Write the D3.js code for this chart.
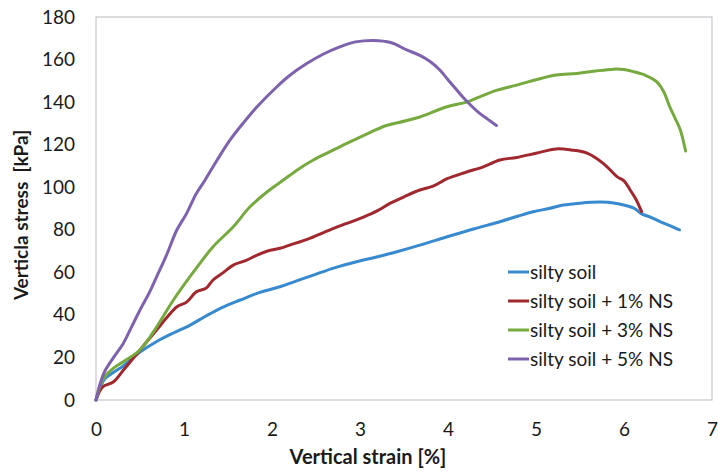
<!DOCTYPE html>
<html>
<head>
<meta charset="utf-8">
<script src="https://cdn.jsdelivr.net/npm/d3@7"></script>
<style>
  body { margin: 0; background: #fff; }
  svg { display: block; }
</style>
</head>
<body>
<div class="chart"></div>
<script>
const xTicks = [0, 1, 2, 3, 4, 5, 6, 7];
const yTicks = [0, 20, 40, 60, 80, 100, 120, 140, 160, 180];

const seriesNames = ['silty soil', 'silty soil + 1% NS', 'silty soil + 3% NS', 'silty soil + 5% NS'];
const seriesColors = ['#3789d0', '#a0282e', '#76aa3f', '#7d62ad'];

const strain0 = [0, 0.05, 0.1, 0.2, 0.31, 0.5, 0.69, 0.88, 1.07, 1.25, 1.45, 1.64, 1.83, 2.09, 2.28, 2.47, 2.7, 2.96, 3.2, 3.42, 3.7, 3.99, 4.3, 4.59, 4.8, 4.97, 5.15, 5.31, 5.5, 5.73, 5.9, 6.03, 6.12, 6.2, 6.3, 6.41, 6.52, 6.63];
const stress0 = [0, 6, 10, 13, 16, 22.5, 27.5, 31.5, 35.2, 39.5, 43.8, 47, 50.1, 53.2, 56, 58.7, 62, 65, 67.3, 69.7, 73, 76.7, 80.5, 83.8, 86.5, 88.5, 90, 91.6, 92.5, 93, 92.5, 91.3, 90, 87.5, 86, 83.8, 82, 80];

const strain1 = [0, 0.04, 0.08, 0.2, 0.31, 0.5, 0.69, 0.8, 0.92, 1.03, 1.14, 1.25, 1.33, 1.45, 1.56, 1.7, 1.83, 1.95, 2.09, 2.2, 2.4, 2.66, 2.85, 3.04, 3.2, 3.34, 3.5, 3.68, 3.83, 3.99, 4.2, 4.4, 4.59, 4.78, 5.0, 5.23, 5.4, 5.58, 5.77, 5.92, 6.0, 6.07, 6.14, 6.2];
const stress1 = [0, 4, 6.3, 8.6, 14, 23.5, 33, 38.5, 43.8, 46, 50.9, 52.5, 56.4, 60, 63.4, 65.5, 68.1, 70, 71.3, 72.8, 75.5, 80, 83, 86, 89, 92.4, 95.5, 98.7, 100.5, 104, 107, 109.6, 112.8, 114, 116, 118, 117.5, 116, 111, 105, 103, 98.7, 94, 88.5];

const strain3 = [0, 0.05, 0.1, 0.2, 0.31, 0.5, 0.69, 0.88, 1.11, 1.33, 1.56, 1.75, 1.95, 2.13, 2.3, 2.47, 2.65, 2.85, 3.05, 3.3, 3.5, 3.68, 3.99, 4.21, 4.36, 4.55, 4.78, 5.0, 5.23, 5.46, 5.65, 5.88, 6.0, 6.11, 6.25, 6.37, 6.45, 6.52, 6.58, 6.64, 6.7];
const stress3 = [0, 7, 11, 15, 18, 23.5, 34.4, 47, 60.3, 72, 81.4, 90.8, 98, 103.4, 108.5, 112.8, 116.5, 120.6, 124.5, 129, 131, 133, 137.8, 140, 142.5, 145.5, 148, 150.5, 152.7, 153.5, 154.5, 155.5, 155.3, 154.3, 152.5, 149.6, 145, 137.8, 132.5, 126.9, 117];

const strain5 = [0, 0.05, 0.1, 0.2, 0.31, 0.4, 0.5, 0.6, 0.69, 0.8, 0.92, 1.03, 1.14, 1.24, 1.38, 1.52, 1.68, 1.83, 2.05, 2.2, 2.39, 2.58, 2.77, 2.95, 3.15, 3.35, 3.53, 3.68, 3.8, 3.91, 4.0, 4.1, 4.2, 4.36, 4.45, 4.55];
const stress5 = [0, 8, 13.5, 20, 26.6, 34, 42.3, 50, 58, 68, 80, 87.7, 97, 103.4, 113, 122, 130.5, 137.8, 147, 152.5, 158, 162.5, 166, 168.3, 169, 168, 164.5, 162, 159, 155, 150.5, 145.7, 141, 134.7, 132, 129];

const strains = [strain0, strain1, strain3, strain5];
const stresses = [stress0, stress1, stress3, stress5];

const width = 718;
const height = 471;
const margin = { top: 17, right: 6, bottom: 71, left: 96 };
const font = 'Lato, "Open Sans", sans-serif';

const svg = d3.select('.chart')
    .append('svg')
    .attr('width', width)
    .attr('height', height);

const x = d3.scaleLinear()
    .domain([0, 7])
    .range([margin.left, width - margin.right]);

const y = d3.scaleLinear()
    .domain([0, 180])
    .range([height - margin.bottom, margin.top]);

// frame
svg.append('rect')
    .attr('x', x(0))
    .attr('y', y(180))
    .attr('width', x(7) - x(0))
    .attr('height', y(0) - y(180))
    .attr('fill', 'none')
    .attr('stroke', '#c3c7cb')
    .attr('stroke-width', 1.2);

const xAxis = svg.append('g')
    .attr('transform', `translate(0,${y(0)})`)
    .call(d3.axisBottom(x).tickValues(xTicks).tickSize(0).tickPadding(23).tickFormat(d3.format('d')));

const yAxis = svg.append('g')
    .attr('transform', `translate(${x(0)},0)`)
    .call(d3.axisLeft(y).tickValues(yTicks).tickSize(0).tickPadding(21).tickFormat(d3.format('d')));

[xAxis, yAxis].forEach(axis => {
    axis.select('.domain').remove();
    axis.selectAll('text')
        .style('font-family', font)
        .style('font-size', '19px')
        .attr('fill', '#1a1a1a');
});

svg.append('text')
    .attr('x', 368)
    .attr('y', 464)
    .attr('text-anchor', 'middle')
    .style('font-family', font)
    .style('font-size', '20px')
    .style('font-weight', 'bold')
    .attr('fill', '#1a1a1a')
    .text('Vertical strain [%]');

svg.append('text')
    .attr('transform', 'translate(28,215) rotate(-90)')
    .attr('text-anchor', 'middle')
    .style('font-family', font)
    .style('font-size', '19px')
    .style('font-weight', 'bold')
    .style('white-space', 'pre')
    .attr('fill', '#1a1a1a')
    .text('Verticla stress  [kPa]');

const line = d3.line()
    .x(d => x(d[0]))
    .y(d => y(d[1]))
    .curve(d3.curveCatmullRom.alpha(0.5));

const series = strains.map((s, i) => s.map((v, j) => [v, stresses[i][j]]));

svg.append('g')
    .selectAll('path')
    .data(series)
    .enter()
    .append('path')
    .attr('d', line)
    .attr('fill', 'none')
    .attr('stroke', (d, i) => seriesColors[i])
    .attr('stroke-width', 3)
    .attr('stroke-linejoin', 'round')
    .attr('stroke-linecap', 'round');

const legend = svg.append('g')
    .selectAll('g')
    .data(seriesNames)
    .enter()
    .append('g')
    .attr('transform', (d, i) => `translate(508,${272 + i * 29})`);

legend.append('line')
    .attr('x1', 0)
    .attr('x2', 21)
    .attr('stroke', (d, i) => seriesColors[i])
    .attr('stroke-width', 3);

legend.append('text')
    .attr('x', 22)
    .attr('dy', '0.35em')
    .style('font-family', font)
    .style('font-size', '19px')
    .attr('fill', '#1a1a1a')
    .text(d => d);
</script>
</body>
</html>
